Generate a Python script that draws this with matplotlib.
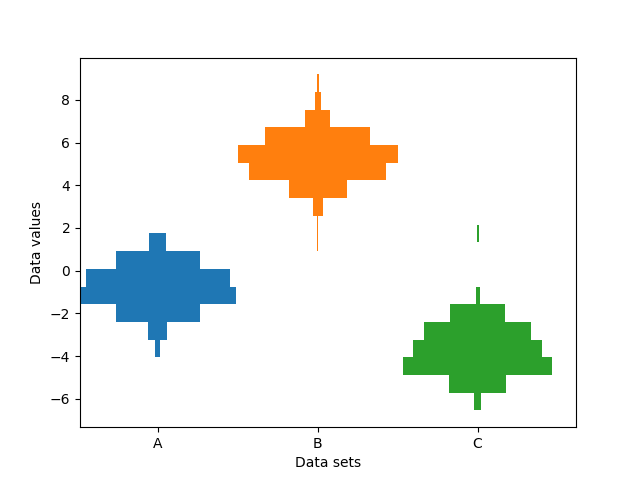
import numpy as np
import matplotlib
matplotlib.use("Agg")
import matplotlib.pyplot as plt

labels = ["A", "B", "C"]
bin_height = 0.828

# bin centers and counts, one pair per data set
centers_a = [-3.64, -2.81, -1.99, -1.16, -0.33, 0.50, 1.33]
counts_a = [5, 19, 83, 154, 143, 83, 17]

centers_b = [1.33, 2.16, 2.99, 3.82, 4.64, 5.47, 6.30, 7.13, 7.96, 8.78]
counts_b = [1, 1, 10, 57, 136, 158, 104, 25, 6, 2]

centers_c = [-6.13, -5.30, -4.47, -3.64, -2.81, -1.99, -1.16, 1.74]
counts_c = [6, 56, 148, 128, 106, 54, 4, 2]

centers = [centers_a, centers_b, centers_c]
counts = [counts_a, counts_b, counts_c]

maximums = [max(c) for c in counts]
x_locations = np.arange(0, sum(maximums), max(maximums))[:len(labels)]

fig, ax = plt.subplots(figsize=(6.4, 4.8), dpi=100)
for x_loc, cen, cnt in zip(x_locations, centers, counts):
    cnt = np.array(cnt)
    lefts = x_loc - 0.5 * cnt
    ax.barh(cen, cnt, height=bin_height, left=lefts)

ax.set_xticks(x_locations)
ax.set_xticklabels(labels)
ax.set_ylabel("Data values")
ax.set_xlabel("Data sets")

plt.savefig("out.png")
